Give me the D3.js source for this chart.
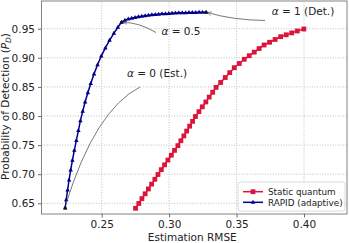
<!DOCTYPE html>
<html>
<head>
<meta charset="utf-8">
<script src="https://cdn.jsdelivr.net/npm/d3@7"></script>
<style>
  body { margin: 0; background: #fff; }
  svg { display: block; font-family: 'DejaVu Sans', sans-serif; }
</style>
</head>
<body>
<script>
// RAPID (adaptive): rising part then plateau
const rapidX = [
  0.2229, 0.2237, 0.2247, 0.2258, 0.2270, 0.2283, 0.2297, 0.2312, 0.2327, 0.2342,
  0.2359, 0.2377, 0.2397, 0.2419, 0.2443, 0.2469, 0.2497, 0.2527, 0.2558, 0.2590,
  0.2620, 0.2647, 0.2672, 0.2697, 0.2722, 0.2747, 0.2772, 0.2797, 0.2822, 0.2847,
  0.2872, 0.2897, 0.2922, 0.2947, 0.2972, 0.2997, 0.3022, 0.3047, 0.3072, 0.3097,
  0.3122, 0.3147, 0.3172, 0.3197, 0.3222, 0.3247, 0.3274
];
const rapidY = [
  0.642, 0.656, 0.673, 0.690, 0.707, 0.724, 0.741, 0.758, 0.775, 0.792,
  0.808, 0.824, 0.840, 0.856, 0.872, 0.888, 0.903, 0.917, 0.930, 0.942,
  0.9525, 0.9612, 0.9646, 0.9666, 0.9681, 0.9694, 0.9705, 0.9715, 0.9724, 0.9732,
  0.9739, 0.9745, 0.9750, 0.9755, 0.9759, 0.9763, 0.9767, 0.9770, 0.9772, 0.9774,
  0.9776, 0.9778, 0.9779, 0.9780, 0.9781, 0.9782, 0.9783
];

// Static quantum
const staticX = [
  0.2751, 0.2775, 0.2798, 0.2822, 0.2846, 0.2870, 0.2894, 0.2917, 0.2942, 0.2966,
  0.2991, 0.3016, 0.3040, 0.3065, 0.3087, 0.3109, 0.3130, 0.3152, 0.3174, 0.3195,
  0.3221, 0.3246, 0.3272, 0.3297, 0.3323, 0.3348, 0.3382, 0.3416, 0.3449, 0.3483,
  0.3520, 0.3557, 0.3594, 0.3631, 0.3667, 0.3704, 0.3745, 0.3786, 0.3827, 0.3868,
  0.3909, 0.3950, 0.3999
];
const staticY = [
  0.6414, 0.6497, 0.6580, 0.6663, 0.6746, 0.6829, 0.6912, 0.6995, 0.7078, 0.7161,
  0.7243, 0.7326, 0.7409, 0.7491, 0.7575, 0.7658, 0.7741, 0.7825, 0.7908, 0.7991,
  0.8075, 0.8158, 0.8241, 0.8325, 0.8408, 0.8491, 0.8576, 0.8661, 0.8745, 0.8830,
  0.8902, 0.8974, 0.9036, 0.9097, 0.9159, 0.9220, 0.9267, 0.9315, 0.9363, 0.9395,
  0.9428, 0.9461, 0.9495
];

const xTicks = [0.25, 0.30, 0.35, 0.40];
const yTicks = [0.65, 0.70, 0.75, 0.80, 0.85, 0.90, 0.95];
const seriesNames = ['Static quantum', 'RAPID (adaptive)'];

// alpha annotations: label text and the marked point
const alphaLabels = ['0 (Est.)', '0.5', '1 (Det.)'];
const alphaPointX = [0.2229, 0.2647, 0.3274];
const alphaPointY = [0.642, 0.9612, 0.9783];

const width = 349;
const height = 243;
const margin = { left: 41.5, right: 2, top: 1, bottom: 29 };
let x;
let y;
const svg = d3.select('body').append('svg');

function drawCanvas() {
  svg.attr('width', width).attr('height', height);
}

function generateScales() {
  x = d3.scaleLinear()
    .domain([0.20536, 0.43188])
    .range([margin.left, width - margin.right]);
  y = d3.scaleLinear()
    .domain([0.6316, 0.9976])
    .range([height - margin.bottom, margin.top]);
}

function drawGrid() {
  const g = svg.append('g')
    .attr('stroke', '#b0b0b0')
    .attr('stroke-width', 0.8)
    .attr('stroke-dasharray', '1,1.6');
  g.selectAll('.gx').data(xTicks).enter().append('line')
    .attr('x1', (d) => x(d)).attr('x2', (d) => x(d))
    .attr('y1', y.range()[0]).attr('y2', y.range()[1]);
  g.selectAll('.gy').data(yTicks).enter().append('line')
    .attr('y1', (d) => y(d)).attr('y2', (d) => y(d))
    .attr('x1', x.range()[0]).attr('x2', x.range()[1]);
}

function drawAxes() {
  const xAxis = d3.axisBottom(x).tickValues(xTicks)
    .tickFormat(d3.format('.2f')).tickSize(3.5).tickPadding(3);
  const yAxis = d3.axisLeft(y).tickValues(yTicks)
    .tickFormat(d3.format('.2f')).tickSize(3.5).tickPadding(3);

  const gx = svg.append('g')
    .attr('transform', `translate(0,${height - margin.bottom})`)
    .call(xAxis);
  const gy = svg.append('g')
    .attr('transform', `translate(${margin.left},0)`)
    .call(yAxis);
  [gx, gy].forEach((g) => {
    g.select('.domain').remove();
    g.selectAll('line').attr('stroke', '#444').attr('stroke-width', 0.8);
    g.selectAll('text').attr('font-size', 10.5).attr('fill', '#222')
      .attr('font-family', 'DejaVu Sans');
  });

  // frame
  svg.append('rect')
    .attr('x', x.range()[0]).attr('y', y.range()[1])
    .attr('width', x.range()[1] - x.range()[0])
    .attr('height', y.range()[0] - y.range()[1])
    .attr('fill', 'none').attr('stroke', '#777').attr('stroke-width', 0.9);

  svg.append('text')
    .attr('x', (x.range()[0] + x.range()[1]) / 2 - 2)
    .attr('y', 241)
    .attr('text-anchor', 'middle')
    .attr('font-size', 10.5).attr('fill', '#222')
    .text('Estimation RMSE');

  const yl = svg.append('text')
    .attr('transform', `translate(9,${(y.range()[0] + y.range()[1]) / 2 - 1}) rotate(-90)`)
    .attr('text-anchor', 'middle')
    .attr('font-size', 10.5).attr('fill', '#222');
  yl.append('tspan').text('Probability of Detection (');
  yl.append('tspan').attr('font-style', 'italic').text('P');
  yl.append('tspan').attr('font-size', 7.5).attr('font-style', 'italic').attr('dy', 2).text('D');
  yl.append('tspan').attr('dy', -2).text(')');
}

function triangle(cx, cy, r) {
  return `M${cx},${cy - r}L${cx + r * 0.9},${cy + r * 0.6}L${cx - r * 0.9},${cy + r * 0.6}Z`;
}

function drawSeries() {
  const staticData = staticX.map((v, i) => [v, staticY[i]]);
  const rapidData = rapidX.map((v, i) => [v, rapidY[i]]);
  const line = d3.line().x((d) => x(d[0])).y((d) => y(d[1]));

  svg.append('path').datum(staticData)
    .attr('d', line).attr('fill', 'none')
    .attr('stroke', '#dc143c').attr('stroke-width', 1.5);
  svg.append('g').selectAll('rect').data(staticData).enter().append('rect')
    .attr('x', (d) => x(d[0]) - 2.4).attr('y', (d) => y(d[1]) - 2.4)
    .attr('width', 4.8).attr('height', 4.8)
    .attr('fill', '#dc143c');

  svg.append('path').datum(rapidData)
    .attr('d', line).attr('fill', 'none')
    .attr('stroke', '#00008b').attr('stroke-width', 1.5);
  svg.append('g').selectAll('path').data(rapidData).enter().append('path')
    .attr('d', (d) => triangle(x(d[0]), y(d[1]), 2.5))
    .attr('fill', '#00008b');
}

function drawAnnotations() {
  const pts = alphaPointX.map((v, i) => [x(v), y(alphaPointY[i])]);
  // text centres, curve start points and curve control points (pixels)
  const textPos = [[157, 77], [181, 35], [303, 14.5]];
  const starts = [[140, 87], [156, 32.5], [265, 20.5]];
  const ctrls = [[95, 110], [138, 22], [232, 20]];

  svg.append('defs').append('marker')
    .attr('id', 'arr').attr('viewBox', '0 0 10 10')
    .attr('refX', 9).attr('refY', 5)
    .attr('markerWidth', 6).attr('markerHeight', 6)
    .attr('orient', 'auto')
    .append('path').attr('d', 'M1,1L9,5L1,9')
    .attr('fill', 'none').attr('stroke', '#444').attr('stroke-width', 1.1);

  pts.forEach((p, i) => {
    const s = starts[i];
    const c = ctrls[i];
    svg.append('path')
      .attr('d', `M${s[0]},${s[1]}Q${c[0]},${c[1]} ${p[0] + (i === 0 ? 0.5 : 1.5)},${p[1] + (i === 0 ? -3 : 0.3)}`)
      .attr('fill', 'none').attr('stroke', '#555').attr('stroke-width', 0.8)
      .attr('marker-end', i === 0 ? null : 'url(#arr)');

    svg.append('circle').attr('cx', p[0]).attr('cy', p[1]).attr('r', 1.5)
      .attr('fill', '#111');

    const t = svg.append('text')
      .attr('x', textPos[i][0]).attr('y', textPos[i][1])
      .attr('text-anchor', 'middle')
      .attr('font-size', 10.5).attr('fill', '#222');
    t.append('tspan').attr('font-style', 'italic').text('α');
    t.append('tspan').text(' = ' + alphaLabels[i]);
  });
}

function drawLegend() {
  const colors = ['#dc143c', '#00008b'];
  const g = svg.append('g').attr('transform', 'translate(238,182)');
  g.append('rect').attr('width', 107).attr('height', 29).attr('rx', 2.5)
    .attr('fill', '#fff').attr('fill-opacity', 0.8)
    .attr('stroke', '#d0d0d0').attr('stroke-width', 0.8);
  seriesNames.forEach((name, i) => {
    const cy = 9.7 + i * 10.6;
    g.append('line').attr('x1', 5).attr('x2', 25).attr('y1', cy).attr('y2', cy)
      .attr('stroke', colors[i]).attr('stroke-width', 1.5);
    if (i === 0) {
      g.append('rect').attr('x', 15 - 2.4).attr('y', cy - 2.4)
        .attr('width', 4.8).attr('height', 4.8).attr('fill', colors[i]);
    } else {
      g.append('path').attr('d', triangle(15, cy, 2.5)).attr('fill', colors[i]);
    }
    g.append('text').attr('x', 30).attr('y', cy + 3.2)
      .attr('font-size', 8.8).attr('fill', '#222').text(name);
  });
}

drawCanvas();
generateScales();
drawGrid();
drawSeries();
drawAxes();
drawAnnotations();
drawLegend();
</script>
</body>
</html>
